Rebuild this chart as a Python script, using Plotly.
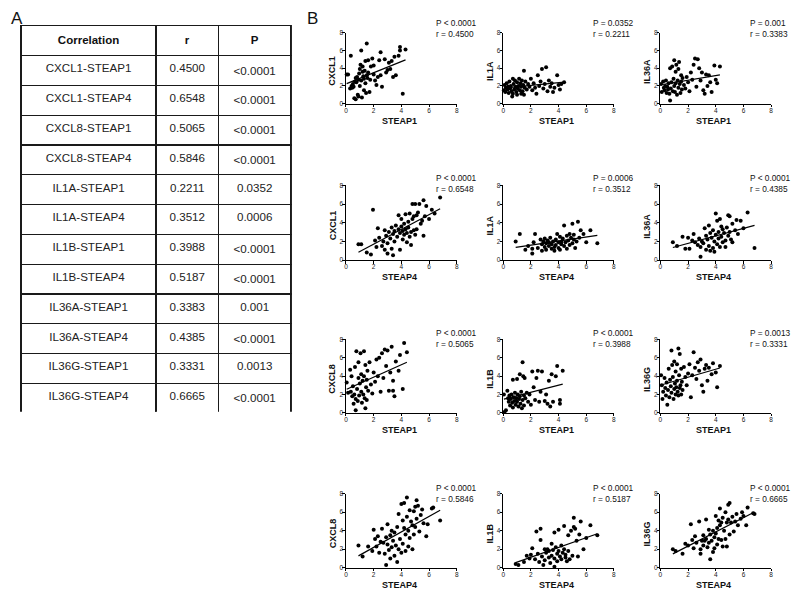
import numpy as np
import plotly.graph_objects as go

# ---------------- Table data (panel A) ----------------
table_pairs = ["CXCL1-STEAP1", "CXCL1-STEAP4", "CXCL8-STEAP1", "CXCL8-STEAP4",
               "IL1A-STEAP1", "IL1A-STEAP4", "IL1B-STEAP1", "IL1B-STEAP4",
               "IL36A-STEAP1", "IL36A-STEAP4", "IL36G-STEAP1", "IL36G-STEAP4"]
table_r = ["0.4500", "0.6548", "0.5065", "0.5846", "0.2211", "0.3512",
           "0.3988", "0.5187", "0.3383", "0.4385", "0.3331", "0.6665"]
table_p = ["<0.0001", "<0.0001", "<0.0001", "<0.0001", "0.0352", "0.0006",
           "<0.0001", "<0.0001", "0.001", "<0.0001", "0.0013", "<0.0001"]
table_header = ["Correlation", "r", "P"]

# ---------------- Scatter data (panel B), (x, y) pairs ----------------
cxcl1_steap1 = [(0.05,3.3),(0.15,3.3),(0.3,1.7),(0.35,5.4),(0.4,2.0),(0.45,1.8),(0.5,2.2),(0.55,1.9),(0.6,0.6),(0.65,2.5),
                (0.7,0.5),(0.7,2.9),(0.75,2.4),(0.8,3.0),(0.85,1.0),(0.9,0.8),(0.9,2.7),(0.95,3.4),(1.0,2.0),(1.0,3.9),
                (1.05,4.4),(1.1,6.0),(1.1,2.6),(1.15,0.7),(1.2,3.6),(1.2,4.2),(1.25,3.1),(1.3,1.5),(1.3,2.8),(1.35,3.7),
                (1.4,4.8),(1.4,2.3),(1.45,1.2),(1.5,3.2),(1.5,6.8),(1.55,2.9),(1.6,3.5),(1.6,4.9),(1.7,1.3),(1.75,2.7),
                (1.8,4.2),(1.9,5.1),(2.0,3.3),(2.0,4.3),(2.1,2.6),(2.2,2.1),(2.3,3.0),(2.4,4.9),(2.5,3.2),(2.5,5.8),
                (2.6,1.9),(2.8,5.0),(2.9,3.5),(3.0,3.8),(3.1,4.6),(3.2,3.9),(3.3,4.8),(3.4,3.0),(3.5,5.3),(3.6,3.2),
                (3.8,5.4),(3.9,6.0),(3.9,6.4),(4.1,1.1),(4.3,6.1)]
il1a_steap1 = [(0.05,1.5),(0.1,2.1),(0.15,1.3),(0.2,1.8),(0.25,2.3),(0.3,1.6),(0.35,1.9),(0.4,1.2),(0.45,2.5),(0.5,1.7),
               (0.55,2.0),(0.6,1.4),(0.65,0.8),(0.7,2.8),(0.7,1.1),(0.75,2.2),(0.8,1.6),(0.85,2.6),(0.9,1.9),(0.95,1.3),
               (1.0,2.4),(1.0,1.0),(1.05,1.7),(1.1,2.0),(1.15,2.8),(1.2,1.5),(1.25,2.3),(1.3,1.1),(1.3,1.9),(1.35,2.6),
               (1.4,1.4),(1.45,2.1),(1.5,3.7),(1.5,1.0),(1.55,1.8),(1.6,2.5),(1.7,1.6),(1.8,2.2),(1.9,1.9),(2.0,2.8),
               (2.1,1.5),(2.2,2.3),(2.3,1.8),(2.4,1.1),(2.5,3.2),(2.6,2.0),(2.7,2.5),(2.8,3.9),(2.9,1.7),(3.0,2.2),
               (3.1,4.1),(3.2,1.4),(3.3,2.6),(3.4,1.9),(3.5,2.3),(3.6,1.3),(3.7,1.8),(3.9,3.2),(4.0,2.1),(4.1,1.6),
               (4.2,2.2),(4.4,2.4)]
il36a_steap1 = [(0.05,2.2),(0.1,1.3),(0.2,2.5),(0.25,1.8),(0.3,1.5),(0.35,2.0),(0.4,2.6),(0.45,1.2),(0.5,1.9),(0.55,1.6),
                (0.6,2.3),(0.65,1.1),(0.7,0.35),(0.7,4.0),(0.75,1.7),(0.8,2.4),(0.85,4.2),(0.9,1.4),(0.95,2.8),(1.0,2.0),
                (1.0,4.9),(1.05,1.3),(1.1,3.6),(1.1,2.3),(1.15,4.4),(1.2,1.0),(1.25,2.6),(1.3,3.9),(1.3,1.8),(1.35,4.7),
                (1.4,2.2),(1.45,1.2),(1.5,3.2),(1.5,2.5),(1.55,1.6),(1.6,2.9),(1.7,2.1),(1.8,1.7),(1.9,3.0),(2.0,2.4),
                (2.1,1.4),(2.2,3.5),(2.3,2.7),(2.4,4.4),(2.5,5.1),(2.6,1.9),(2.7,5.0),(2.8,4.0),(2.9,2.6),(3.0,3.5),
                (3.1,1.5),(3.2,1.1),(3.3,3.3),(3.4,2.0),(3.5,3.2),(3.6,2.4),(3.7,1.3),(3.9,4.3),(4.0,2.7),(4.1,2.3),
                (4.3,4.2)]
cxcl1_steap4 = [(0.9,1.7),(1.1,1.7),(1.5,0.8),(1.8,0.6),(1.95,5.4),(2.1,2.1),(2.2,1.4),(2.3,3.4),(2.4,2.4),(2.6,1.5),
                (2.7,2.0),(2.8,3.2),(2.8,1.1),(2.9,2.6),(3.0,0.7),(3.0,1.8),(3.1,3.0),(3.2,2.3),(3.3,1.2),(3.3,3.5),
                (3.4,0.5),(3.4,2.8),(3.5,3.1),(3.5,2.0),(3.6,3.7),(3.7,2.5),(3.8,4.8),(3.8,3.3),(3.9,1.1),(3.9,2.9),
                (4.0,3.6),(4.0,4.4),(4.1,2.2),(4.1,3.1),(4.2,2.7),(4.2,3.9),(4.3,4.9),(4.3,3.3),(4.4,1.9),(4.4,2.9),
                (4.5,4.1),(4.5,3.5),(4.6,5.0),(4.6,2.5),(4.7,1.6),(4.7,3.0),(4.8,4.4),(4.8,6.0),(4.9,3.2),(4.9,4.7),
                (5.0,6.0),(5.0,2.7),(5.1,4.8),(5.1,3.3),(5.2,5.1),(5.3,6.0),(5.4,3.9),(5.5,4.2),(5.6,6.4),(5.6,2.6),
                (5.7,4.7),(5.8,5.8),(6.0,4.4),(6.2,5.4),(6.4,5.0),(6.8,6.7)]
il1a_steap4 = [(0.9,2.0),(1.2,2.8),(1.6,1.1),(1.8,1.5),(2.1,0.7),(2.1,1.2),(2.2,1.9),(2.3,2.8),(2.5,1.3),(2.7,2.2),
               (2.8,1.0),(2.8,1.7),(2.9,2.0),(3.0,1.4),(3.0,2.3),(3.1,1.1),(3.1,1.8),(3.2,2.1),(3.3,1.5),(3.3,1.9),
               (3.4,2.4),(3.5,1.2),(3.5,1.7),(3.6,2.0),(3.7,1.0),(3.7,1.4),(3.8,2.2),(3.8,1.6),(3.9,2.8),(4.0,1.3),
               (4.0,1.9),(4.1,2.5),(4.1,1.1),(4.2,2.0),(4.2,1.7),(4.3,2.3),(4.4,3.7),(4.4,1.5),(4.5,1.9),(4.6,2.6),
               (4.6,1.2),(4.7,2.1),(4.8,2.8),(4.8,1.6),(4.9,2.4),(5.0,3.9),(5.0,1.8),(5.1,2.2),(5.1,2.7),(5.2,1.3),
               (5.3,2.0),(5.4,4.1),(5.5,2.4),(5.6,3.2),(5.8,2.8),(6.0,1.9),(6.3,3.2),(6.8,1.8)]
il36a_steap4 = [(0.9,1.9),(1.2,1.5),(1.6,2.5),(1.8,1.2),(2.0,2.4),(2.1,1.2),(2.3,2.1),(2.4,2.8),(2.5,1.9),(2.7,1.6),
                (2.8,2.3),(2.9,0.35),(2.9,1.4),(3.0,2.0),(3.1,1.8),(3.2,3.4),(3.3,2.6),(3.3,1.1),(3.4,2.2),(3.5,3.7),
                (3.5,1.5),(3.6,2.9),(3.6,1.0),(3.7,2.4),(3.8,1.3),(3.8,3.2),(3.9,0.9),(3.9,2.0),(4.0,5.0),(4.0,2.7),
                (4.1,1.7),(4.1,4.2),(4.2,3.0),(4.2,2.3),(4.3,4.4),(4.3,1.4),(4.4,3.6),(4.4,2.5),(4.5,1.9),(4.5,3.3),
                (4.6,2.9),(4.7,2.1),(4.7,1.4),(4.8,3.5),(4.9,4.8),(4.9,2.6),(5.0,4.7),(5.0,3.0),(5.1,2.2),(5.2,3.9),
                (5.2,1.9),(5.4,3.2),(5.5,4.3),(5.6,2.8),(5.8,4.2),(6.0,3.4),(6.3,5.1),(6.8,1.3)]
cxcl8_steap1 = [(0.05,3.3),(0.15,2.2),(0.3,4.7),(0.35,2.3),(0.4,4.0),(0.45,1.8),(0.5,2.9),(0.55,1.0),(0.6,2.0),(0.65,5.0),
                (0.7,0.3),(0.7,1.5),(0.75,6.7),(0.8,2.6),(0.85,1.3),(0.9,3.8),(0.9,5.5),(0.95,1.9),(1.0,3.2),(1.05,6.5),
                (1.1,2.3),(1.1,4.2),(1.15,1.1),(1.2,3.5),(1.25,2.0),(1.3,6.7),(1.3,4.0),(1.35,1.6),(1.4,0.5),(1.4,5.2),
                (1.45,2.8),(1.5,3.6),(1.5,1.4),(1.55,4.6),(1.6,2.4),(1.7,5.5),(1.8,3.1),(1.9,2.1),(2.0,4.4),(2.1,3.4),
                (2.2,5.8),(2.3,4.0),(2.4,6.0),(2.5,2.3),(2.6,6.5),(2.7,3.8),(2.8,6.9),(2.9,5.1),(3.0,6.8),(3.1,2.4),
                (3.2,4.4),(3.3,7.2),(3.4,3.5),(3.4,2.4),(3.5,1.8),(3.6,5.6),(3.8,4.6),(3.9,6.3),(4.1,2.6),(4.2,7.6),
                (4.4,6.6)]
il1b_steap1 = [(0.05,2.0),(0.1,0.1),(0.2,0.3),(0.3,2.4),(0.35,1.6),(0.4,1.2),(0.45,1.9),(0.5,0.8),(0.55,1.5),(0.6,2.0),
               (0.65,1.1),(0.7,3.6),(0.7,0.6),(0.75,1.7),(0.8,1.3),(0.85,2.2),(0.9,0.9),(0.95,1.6),(1.0,3.7),(1.0,1.2),
               (1.05,2.0),(1.1,0.7),(1.15,1.5),(1.2,4.2),(1.2,1.8),(1.25,1.0),(1.3,2.3),(1.35,0.5),(1.4,5.5),(1.4,1.4),
               (1.45,4.0),(1.5,1.9),(1.5,0.8),(1.55,3.8),(1.6,1.6),(1.7,2.2),(1.8,1.2),(1.9,2.0),(2.0,0.9),(2.1,4.5),
               (2.2,2.8),(2.3,1.4),(2.4,3.8),(2.5,4.6),(2.6,1.2),(2.7,2.3),(2.8,4.5),(3.0,1.3),(3.1,2.0),(3.2,1.0),
               (3.3,3.5),(3.4,0.7),(3.5,4.2),(3.6,1.2),(3.8,4.0),(3.9,5.1),(4.1,1.4),(4.1,1.0),(4.3,4.6)]
il36g_steap1 = [(0.05,4.1),(0.1,3.0),(0.15,1.5),(0.2,2.3),(0.3,3.8),(0.35,2.7),(0.4,1.9),(0.45,3.3),(0.5,0.9),(0.55,2.5),
                (0.6,4.8),(0.65,1.7),(0.7,3.6),(0.75,2.9),(0.8,6.8),(0.8,2.2),(0.85,5.2),(0.9,3.9),(0.95,1.5),(1.0,5.6),
                (1.0,2.6),(1.05,3.2),(1.1,4.5),(1.1,2.0),(1.15,2.8),(1.2,5.3),(1.2,3.5),(1.25,2.3),(1.3,7.0),(1.3,1.9),
                (1.35,4.1),(1.4,2.7),(1.4,6.4),(1.45,3.0),(1.5,2.0),(1.5,4.8),(1.55,3.4),(1.6,2.5),(1.7,5.0),(1.8,3.9),
                (1.9,3.0),(2.0,4.3),(2.1,5.3),(2.2,1.7),(2.3,4.1),(2.4,6.6),(2.5,4.9),(2.6,3.7),(2.7,5.5),(2.8,4.6),
                (2.9,5.8),(3.0,3.0),(3.1,2.3),(3.2,4.8),(3.3,5.2),(3.4,3.5),(3.5,4.9),(3.7,4.2),(3.8,5.4),(4.0,4.4),
                (4.1,2.8),(4.3,5.1)]
cxcl8_steap4 = [(0.9,2.4),(1.2,1.2),(1.6,2.3),(1.9,1.8),(2.0,4.1),(2.1,3.1),(2.2,2.3),(2.3,3.4),(2.4,1.6),(2.5,2.8),
                (2.6,4.2),(2.7,2.7),(2.8,1.5),(2.9,3.3),(2.9,0.3),(3.0,2.5),(3.0,4.7),(3.1,1.9),(3.2,3.5),(3.2,1.0),
                (3.3,4.0),(3.3,2.2),(3.4,2.9),(3.5,1.3),(3.5,3.8),(3.6,2.4),(3.7,0.6),(3.7,4.4),(3.8,5.8),(3.8,2.0),
                (3.9,3.1),(4.0,6.9),(4.0,1.6),(4.1,5.1),(4.1,2.6),(4.2,4.3),(4.2,7.0),(4.3,3.6),(4.3,1.8),(4.4,7.6),
                (4.4,5.5),(4.5,2.3),(4.5,4.0),(4.6,6.2),(4.6,3.2),(4.7,5.0),(4.8,2.0),(4.8,4.6),(4.9,6.1),(4.9,3.6),
                (5.0,6.6),(5.0,4.4),(5.1,7.3),(5.1,5.3),(5.2,6.7),(5.3,3.9),(5.4,5.7),(5.5,6.3),(5.6,4.8),(5.8,3.4),
                (5.9,4.7),(6.2,6.4),(6.3,6.5),(6.8,5.1)]
il1b_steap4 = [(0.9,0.4),(1.1,0.3),(1.5,0.6),(1.7,1.3),(1.9,1.0),(2.0,1.4),(2.1,2.1),(2.3,0.9),(2.4,3.9),(2.5,1.5),
               (2.6,0.6),(2.7,4.2),(2.7,3.0),(2.8,1.2),(2.9,0.3),(3.0,2.0),(3.0,0.8),(3.1,1.6),(3.2,2.0),(3.3,1.1),
               (3.3,1.8),(3.4,0.5),(3.5,2.6),(3.5,1.3),(3.6,1.9),(3.7,0.1),(3.7,3.8),(3.7,1.0),(3.8,2.2),(3.9,1.5),
               (3.9,0.7),(4.0,4.1),(4.0,1.8),(4.1,1.2),(4.2,2.4),(4.2,0.9),(4.3,1.6),(4.4,4.5),(4.4,2.0),(4.5,1.1),
               (4.5,1.4),(4.6,0.7),(4.7,3.5),(4.7,1.8),(4.8,0.9),(4.9,4.0),(5.0,1.3),(5.1,5.4),(5.1,4.4),(5.2,4.2),
               (5.3,2.9),(5.4,1.2),(5.5,3.6),(5.6,5.0),(5.8,2.0),(6.0,3.2),(6.3,4.6),(6.8,3.5)]
il36g_steap4 = [(0.9,2.0),(1.1,1.8),(1.6,1.5),(1.8,2.6),(2.0,2.4),(2.2,4.7),(2.3,3.0),(2.4,2.1),(2.5,3.4),(2.6,2.7),
                (2.8,5.0),(2.9,2.0),(2.9,1.5),(3.0,2.9),(3.1,3.5),(3.1,2.4),(3.2,2.9),(3.3,5.2),(3.3,3.1),(3.4,2.2),
                (3.5,4.1),(3.5,2.7),(3.6,0.9),(3.6,3.6),(3.7,2.9),(3.8,1.7),(3.8,4.0),(3.9,3.3),(3.9,2.1),(4.0,5.6),
                (4.0,3.7),(4.1,4.3),(4.1,2.5),(4.2,3.1),(4.2,5.1),(4.3,4.6),(4.3,6.4),(4.4,3.0),(4.4,4.9),(4.5,2.3),
                (4.5,5.4),(4.6,4.0),(4.7,3.1),(4.7,6.0),(4.8,2.3),(4.8,4.9),(4.9,6.8),(4.9,5.2),(5.0,3.6),(5.0,7.0),
                (5.1,4.9),(5.2,5.5),(5.3,3.9),(5.4,5.0),(5.5,5.8),(5.6,4.6),(5.8,5.3),(5.9,6.0),(6.0,5.6),(6.2,4.6),
                (6.3,6.5),(6.7,5.9),(6.8,5.8)]

panel_points = [cxcl1_steap1, il1a_steap1, il36a_steap1,
                cxcl1_steap4, il1a_steap4, il36a_steap4,
                cxcl8_steap1, il1b_steap1, il36g_steap1,
                cxcl8_steap4, il1b_steap4, il36g_steap4]
panel_genes = ["CXCL1", "IL1A", "IL36A", "CXCL1", "IL1A", "IL36A",
               "CXCL8", "IL1B", "IL36G", "CXCL8", "IL1B", "IL36G"]
panel_steap = ["STEAP1"] * 3 + ["STEAP4"] * 3 + ["STEAP1"] * 3 + ["STEAP4"] * 3
panel_p = ["P < 0.0001", "P = 0.0352", "P = 0.001", "P < 0.0001", "P = 0.0006", "P < 0.0001",
           "P < 0.0001", "P < 0.0001", "P = 0.0013", "P < 0.0001", "P < 0.0001", "P < 0.0001"]
panel_r = ["r = 0.4500", "r = 0.2211", "r = 0.3383", "r = 0.6548", "r = 0.3512", "r = 0.4385",
           "r = 0.5065", "r = 0.3988", "r = 0.3331", "r = 0.5846", "r = 0.5187", "r = 0.6665"]
axis_ticks = [0, 2, 4, 6, 8]
axis_range = [0, 8]

# ---------------- Layout geometry (page pixels) ----------------
OFF = 8                      # page body margin around the plot div
W, H = 800 - OFF, 600 - OFF  # figure size so it fits in the window
FONT = "Liberation Sans, Arial, Helvetica, sans-serif"
COL_X = [(345.7, 457.0), (503.7, 615.0), (661.7, 773.0)]
ROW_Y = [(29.0, 100.7), (183.5, 259.0), (339.3, 413.7), (495.5, 570.3)]
ANNO_TOP = [12.0, 169.0, 326.0, 482.5]     # top of the P / r text block
XTITLE_DY = 17.5


def px(x):
    return (x - OFF) / W


def py(y):
    return 1 - (y - OFF) / H


def esc(s):
    return s.replace("<", "&lt;")


fig = go.Figure()

# Table (panel A)
fig.add_trace(go.Table(
    domain=dict(x=[px(19), px(290.7)], y=[py(413.3), py(22)]),
    columnwidth=[136, 62.7, 73],
    header=dict(values=["<b>%s</b>" % h for h in table_header],
                height=29.8, align="center", fill_color="white",
                line=dict(color="#1a1a1a", width=1.2),
                font=dict(family=FONT, size=11.5, color="#111")),
    cells=dict(values=[table_pairs, table_r, [esc(p) for p in table_p]],
               height=29.8, align="center", fill_color="white",
               line=dict(color="#1a1a1a", width=1.2),
               font=dict(family=FONT, size=11.6, color="#222")),
))

annotations = [
    dict(text="A", x=px(15), y=py(15), xref="paper", yref="paper", showarrow=False,
         xanchor="center", yanchor="middle", font=dict(family=FONT, size=17, color="#111")),
    dict(text="B", x=px(312), y=py(15), xref="paper", yref="paper", showarrow=False,
         xanchor="center", yanchor="middle", font=dict(family=FONT, size=17, color="#111")),
]

layout_axes = {}
for i, pts in enumerate(panel_points):
    r, c = divmod(i, 3)
    n = i + 1
    xs = np.array([p[0] for p in pts])
    ys = np.array([p[1] for p in pts])
    xa = "x" if n == 1 else "x%d" % n
    ya = "y" if n == 1 else "y%d" % n
    fig.add_trace(go.Scatter(x=xs, y=ys, mode="markers", xaxis=xa, yaxis=ya,
                             marker=dict(size=4, color="black"), cliponaxis=False,
                             showlegend=False, hoverinfo="skip"))
    slope, icpt = np.polyfit(xs, ys, 1)
    lx = np.array([xs.min(), xs.max()])
    fig.add_trace(go.Scatter(x=lx, y=icpt + slope * lx, mode="lines", xaxis=xa, yaxis=ya,
                             line=dict(color="black", width=1.2), showlegend=False,
                             hoverinfo="skip"))
    x0, x1 = COL_X[c]
    y0, y1 = ROW_Y[r]
    common = dict(range=axis_range, showline=True, linecolor="black", linewidth=1,
                  ticks="outside", ticklen=2.5, tickwidth=1, tickcolor="black",
                  ticklabelstandoff=-2,
                  tickvals=axis_ticks, tickfont=dict(family=FONT, size=6.5, color="#222"),
                  showgrid=False, zeroline=False, fixedrange=True)
    layout_axes["xaxis" if n == 1 else "xaxis%d" % n] = dict(
        domain=[px(x0), px(x1)], anchor=ya, **common)
    layout_axes["yaxis" if n == 1 else "yaxis%d" % n] = dict(
        domain=[py(y1), py(y0)], anchor=xa, **common)
    # axis titles
    annotations.append(dict(text="<b>%s</b>" % panel_steap[i],
                            x=px((x0 + x1) / 2 - 2), y=py(y1 + XTITLE_DY),
                            xref="paper", yref="paper", xanchor="center", yanchor="middle",
                            showarrow=False, font=dict(family=FONT, size=9, color="#111")))
    annotations.append(dict(text="<b>%s</b>" % panel_genes[i], textangle=-90,
                            x=px(x0 - 13.5), y=py((y0 + y1) / 2 + 3),
                            xref="paper", yref="paper", xanchor="center", yanchor="middle",
                            showarrow=False, font=dict(family=FONT, size=9, color="#111")))
    # P / r statistics
    annotations.append(dict(text=esc(panel_p[i]) + "<br>" + esc(panel_r[i]),
                            x=px(x0 + 88.5), y=py(ANNO_TOP[r]), xref="paper", yref="paper",
                            xanchor="left", yanchor="top", align="left", showarrow=False,
                            font=dict(family=FONT, size=8.3, color="#111")))

fig.update_layout(width=W, height=H, autosize=False,
                  margin=dict(l=0, r=0, t=0, b=0),
                  paper_bgcolor="white", plot_bgcolor="white",
                  font=dict(family=FONT, color="#111"),
                  annotations=annotations, showlegend=False, **layout_axes)

fig.write_html("out.html", config={"displayModeBar": False})
